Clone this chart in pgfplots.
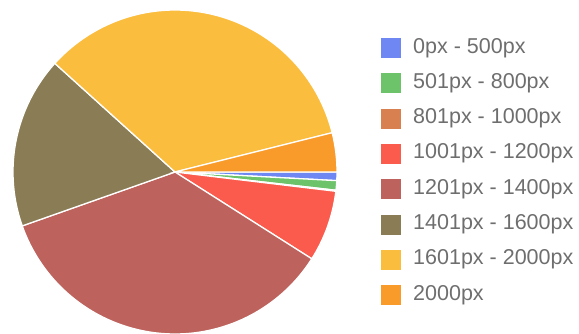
\documentclass[border=0pt]{standalone}
\usepackage{pgfplots}
\pgfplotsset{compat=1.18}
\usepackage{fontspec}
\setmainfont{Liberation Sans}
\definecolor{cBlue}{RGB}{110,135,242}
\definecolor{cGreen}{RGB}{108,195,106}
\definecolor{cBrown}{RGB}{216,128,79}
\definecolor{cRed}{RGB}{250,91,76}
\definecolor{cDarkRed}{RGB}{189,98,92}
\definecolor{cOlive}{RGB}{138,124,85}
\definecolor{cYellow}{RGB}{251,189,62}
\definecolor{cOrange}{RGB}{248,155,42}
\definecolor{textgray}{RGB}{110,110,110}
% shares in percent
\def\pA{0.85}  % 0px - 500px
\def\pB{0.95}  % 501px - 800px
\def\pC{0.10}  % 801px - 1000px
\def\pD{7.10}  % 1001px - 1200px
\def\pE{35.60} % 1201px - 1400px
\def\pF{17.10} % 1401px - 1600px
\def\pG{34.40} % 1601px - 2000px
\def\pH{3.90}  % 2000px
\pgfmathsetmacro\aA{3.6*\pA}
\pgfmathsetmacro\aB{\aA+3.6*\pB}
\pgfmathsetmacro\aC{\aB+3.6*\pC}
\pgfmathsetmacro\aD{\aC+3.6*\pD}
\pgfmathsetmacro\aE{\aD+3.6*\pE}
\pgfmathsetmacro\aF{\aE+3.6*\pF}
\pgfmathsetmacro\aG{\aF+3.6*\pG}
\pgfmathsetmacro\aH{\aG+3.6*\pH}
\begin{document}
\begin{tikzpicture}
\path[use as bounding box] (0,0) rectangle (579pt,333pt);
\begin{axis}[
  at={(175pt,161pt)}, anchor=center,
  width=324pt, height=324pt, scale only axis,
  xmin=-1, xmax=1, ymin=-1, ymax=1,
  hide axis, clip=false,
  samples=120,
  every axis plot/.append style={draw=white, line width=1.3pt},
  legend image code/.code={\fill[#1, draw=none] (0pt,-10pt) rectangle (20pt,10pt);},
  legend cell align=left,
  legend style={at={(1.1358,0.9140)}, anchor=north west, draw=none, fill=none,
    inner sep=0pt, row sep=15.3pt,
    font=\fontsize{21.5}{21.5}\selectfont, text=textgray,
    nodes={inner sep=0pt, text height=15pt, text depth=5pt},
    /tikz/every odd column/.append style={column sep=12pt}},
]
\addplot[fill=cBlue, domain=-\aA:0] ({cos(x)},{sin(x)}) -- (axis cs:0,0) -- cycle;
\addlegendentry{0px - 500px}
\addplot[fill=cGreen, domain=-\aB:-\aA] ({cos(x)},{sin(x)}) -- (axis cs:0,0) -- cycle;
\addlegendentry{501px - 800px}
\addplot[fill=cBrown, domain=-\aC:-\aB] ({cos(x)},{sin(x)}) -- (axis cs:0,0) -- cycle;
\addlegendentry{801px - 1000px}
\addplot[fill=cRed, domain=-\aD:-\aC] ({cos(x)},{sin(x)}) -- (axis cs:0,0) -- cycle;
\addlegendentry{1001px - 1200px}
\addplot[fill=cDarkRed, domain=-\aE:-\aD] ({cos(x)},{sin(x)}) -- (axis cs:0,0) -- cycle;
\addlegendentry{1201px - 1400px}
\addplot[fill=cOlive, domain=-\aF:-\aE] ({cos(x)},{sin(x)}) -- (axis cs:0,0) -- cycle;
\addlegendentry{1401px - 1600px}
\addplot[fill=cYellow, domain=-\aG:-\aF] ({cos(x)},{sin(x)}) -- (axis cs:0,0) -- cycle;
\addlegendentry{1601px - 2000px}
\addplot[fill=cOrange, domain=-\aH:-\aG] ({cos(x)},{sin(x)}) -- (axis cs:0,0) -- cycle;
\addlegendentry{2000px}
\end{axis}
\end{tikzpicture}
\end{document}
